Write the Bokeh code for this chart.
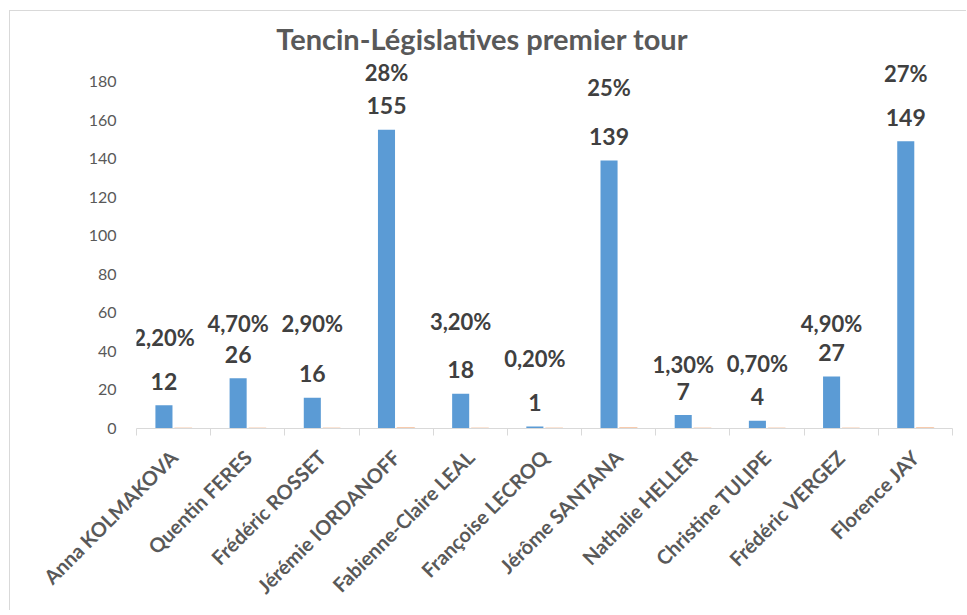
from bokeh.plotting import figure
from bokeh.models import ColumnDataSource, FixedTicker, Label
from bokeh.core.properties import value
from bokeh.embed import file_html
from bokeh.resources import INLINE

# ---- data ----
candidates = ["Anna KOLMAKOVA", "Quentin FERES", "Frédéric ROSSET", "Jérémie IORDANOFF",
              "Fabienne-Claire LEAL", "Françoise LECROQ", "Jérôme SANTANA", "Nathalie HELLER",
              "Christine TULIPE", "Frédéric VERGEZ", "Florence JAY"]
votes = [12, 26, 16, 155, 18, 1, 139, 7, 4, 27, 149]
pct_values = [2.2, 4.7, 2.9, 28, 3.2, 0.2, 25, 1.3, 0.7, 4.9, 27]
pct_labels = ["2,20%", "4,70%", "2,90%", "28%", "3,20%", "0,20%", "25%", "1,30%", "0,70%", "4,90%", "27%"]
y_ticks = [0, 20, 40, 60, 80, 100, 120, 140, 160, 180]
title_text = "Tencin-Législatives premier tour"

# ---- layout / style ----
pct_label_lift = [68, 55, 74, 57, 72, 68, 73, 51, 57, 53, 68]  # px above bar top
FONT = "Lato"
BLUE = "#5B9BD5"
ORANGE = "#ED7D31"
Y_TOP = 211.1  # frame extends above the 180 tick so the top labels/title are not clipped

n = len(candidates)
idx = list(range(n))
src = ColumnDataSource(dict(
    xb=[i + 0.37 for i in idx],
    xo=[i + 0.63 for i in idx],
    votes=votes,
    pfrac=[v / 100 for v in pct_values],
    plab=pct_labels,
    vlab=[str(v) for v in votes],
    pdy=[-d for d in pct_label_lift],
))

p = figure(width=957, height=600, output_backend="svg", toolbar_location=None,
           x_range=(0, n), y_range=(0, Y_TOP),
           min_border_left=126, min_border_right=15, min_border_top=10, min_border_bottom=183)
p.styles = {"border-left": "1px solid #d9d9d9", "border-top": "1px solid #d9d9d9",
            "margin-left": "9px", "margin-top": "10px"}
p.outline_line_color = None
p.xgrid.grid_line_color = None
p.ygrid.grid_line_color = None
p.background_fill_color = "white"
p.border_fill_color = "white"

p.vbar(x="xb", top="votes", width=0.23, source=src, fill_color=BLUE, line_color=None)
p.vbar(x="xo", top="pfrac", width=0.23, source=src, fill_color=ORANGE, fill_alpha=0.45,
       line_color=ORANGE, line_alpha=0.4, line_width=2)

p.text(x="xb", y="votes", text="vlab", source=src, text_align="center", text_baseline="middle",
       y_offset=-24, text_font=value(FONT), text_font_style="bold", text_font_size="23px",
       text_color="#404040")
p.text(x="xb", y="votes", text="plab", source=src, text_align="center", text_baseline="middle",
       y_offset="pdy", text_font=value(FONT), text_font_style="bold", text_font_size="22px",
       text_color="#404040")

# x axis
xa = p.xaxis[0]
xa.ticker = FixedTicker(ticks=[i + 0.5 for i in idx], minor_ticks=list(range(n + 1)))
xa.major_label_overrides = {i + 0.5: c for i, c in zip(idx, candidates)}
xa.major_label_orientation = 0.785398
xa.axis_line_color = "#d9d9d9"
xa.major_tick_line_color = None
xa.major_tick_out = 0
xa.major_tick_in = 0
xa.minor_tick_line_color = "#d9d9d9"
xa.minor_tick_out = 7
xa.minor_tick_in = 0
xa.major_label_standoff = 18
xa.major_label_text_font = FONT
xa.major_label_text_font_style = "bold"
xa.major_label_text_font_size = "20px"
xa.major_label_text_color = "#595959"

# y axis
ya = p.yaxis[0]
ya.ticker = FixedTicker(ticks=y_ticks)
ya.axis_line_color = None
ya.major_tick_line_color = None
ya.minor_tick_line_color = None
ya.major_tick_out = 0
ya.major_tick_in = 0
ya.major_label_standoff = 20
ya.major_label_text_font = FONT
ya.major_label_text_font_size = "16px"
ya.major_label_text_color = "#595959"

p.add_layout(Label(x=4.66, y=202.2, text=title_text, text_align="center", text_baseline="middle",
                   text_font=FONT, text_font_style="bold", text_font_size="29px",
                   text_color="#595959"))

open("out.html", "w").write(file_html(p, INLINE))
